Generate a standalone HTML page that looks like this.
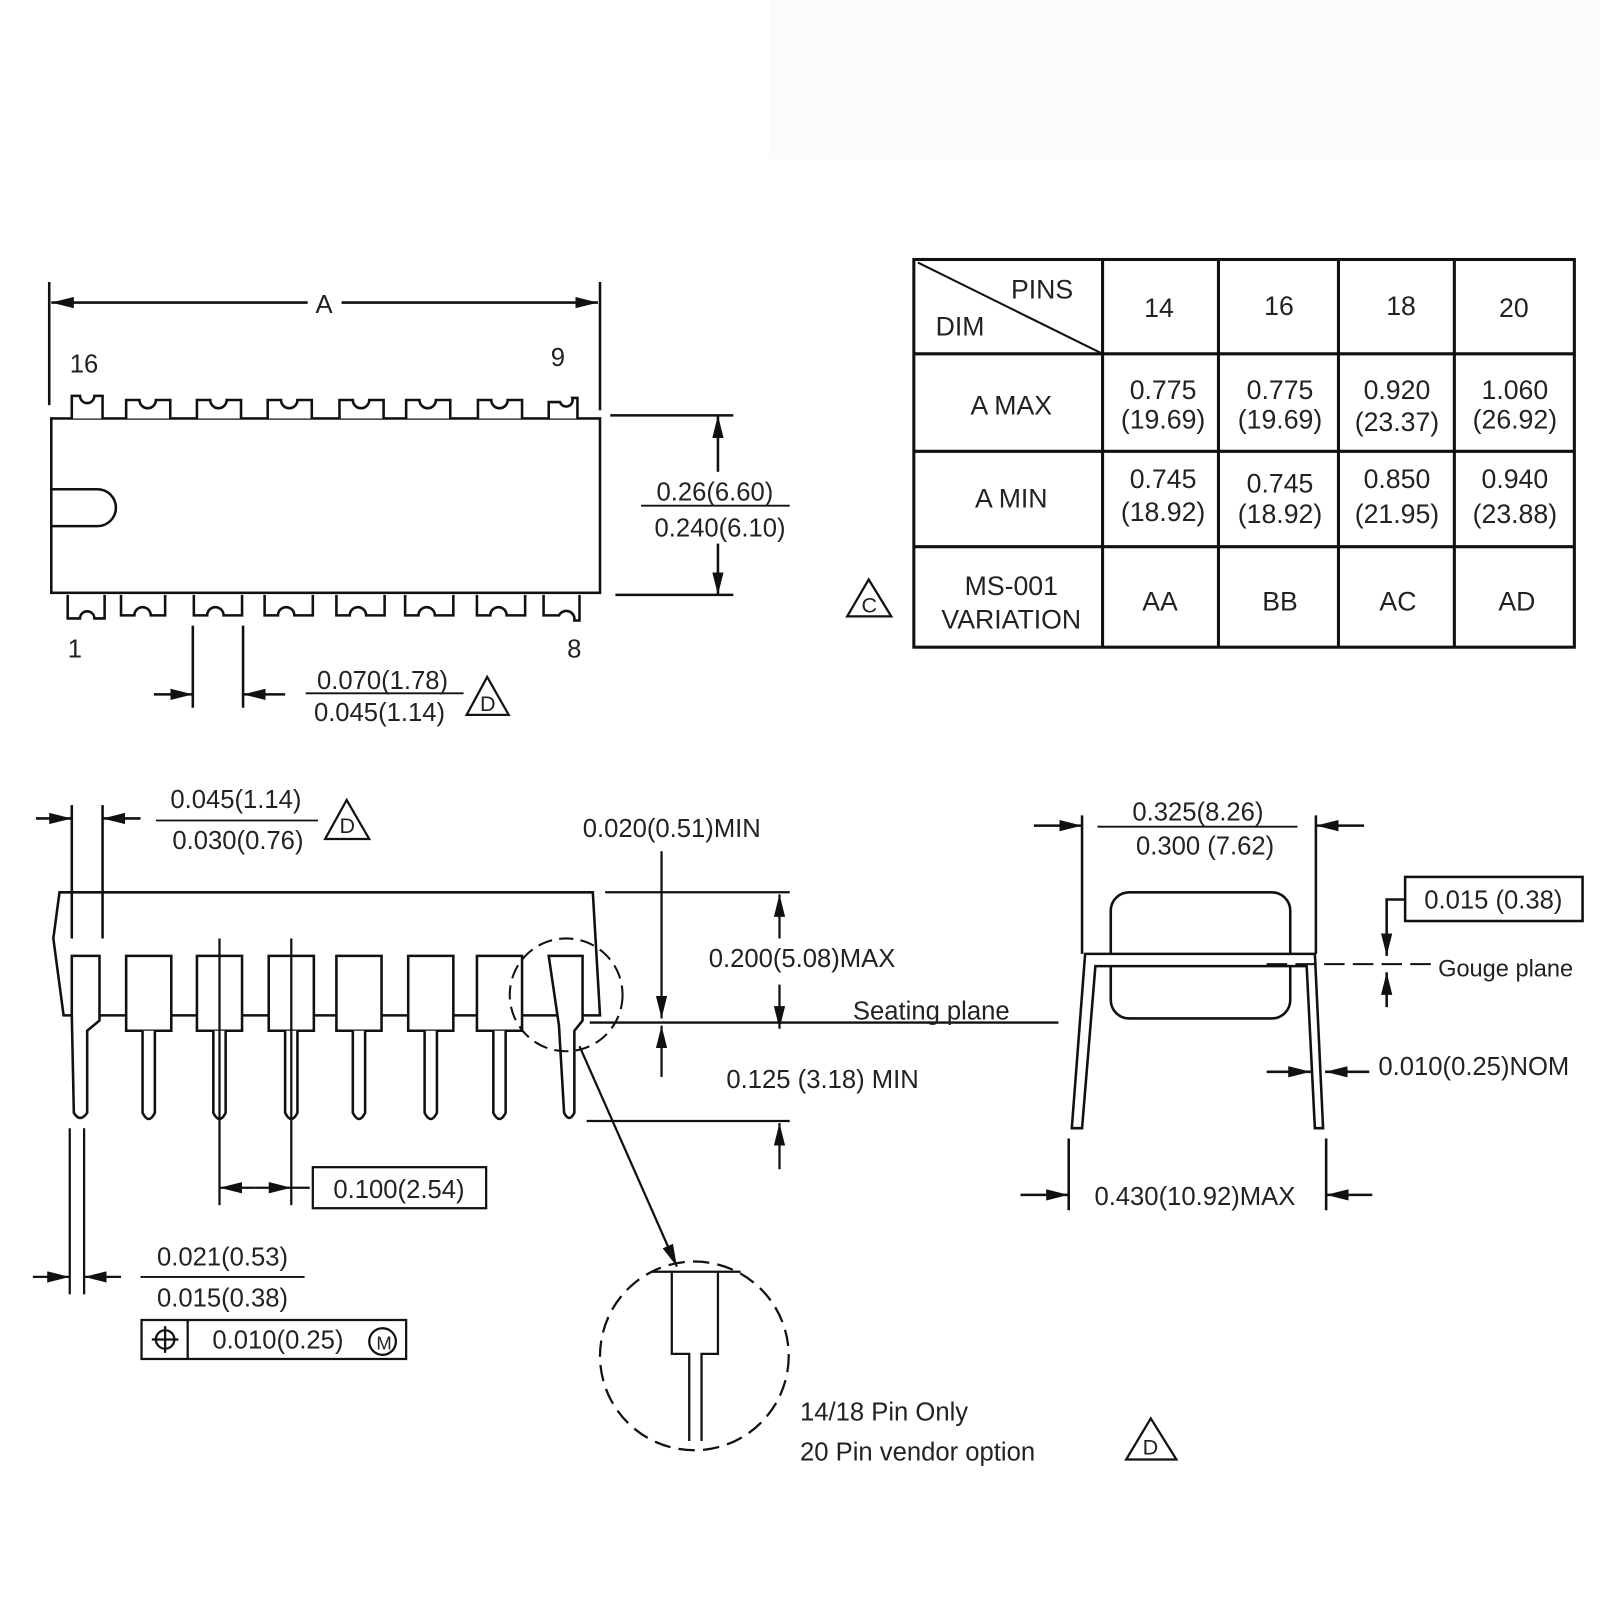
<!DOCTYPE html>
<html><head><meta charset="utf-8"><style>html,body{margin:0;padding:0;background:#fff}svg{display:block}text{font-family:"Liberation Sans",sans-serif;fill:#222}</style></head>
<body>
<svg width="1600" height="1600" viewBox="0 0 1560 1560" xmlns="http://www.w3.org/2000/svg">
<defs>
<marker id="a" viewBox="0 0 10 10" refX="10" refY="5" markerWidth="9" markerHeight="9" orient="auto-start-reverse" markerUnits="userSpaceOnUse"><path d="M0,0L10,5L0,10z" fill="#111"/></marker>
<marker id="b" viewBox="0 0 20 10" refX="20" refY="5" markerWidth="22" markerHeight="11" orient="auto-start-reverse" markerUnits="userSpaceOnUse"><path d="M0,0L20,5L0,10z" fill="#111"/></marker>
</defs>
<rect x="750" y="0" width="810" height="155" fill="#fbfbfb"/>
<g stroke="#111" stroke-width="2.5" fill="none">
<!-- top view -->
<rect x="50" y="408" width="535" height="170" fill="#fff"/>
<path d="M50,477 H95 A18,18 0 0 1 95,513 H50"/>
<line x1="48" y1="275" x2="48" y2="395"/><line x1="585" y1="275" x2="585" y2="400"/>
<line x1="50" y1="295" x2="300" y2="295" marker-start="url(#b)"/><line x1="333" y1="295" x2="583" y2="295" marker-end="url(#b)"/>
<line x1="595" y1="405" x2="715" y2="405"/><line x1="600" y1="580" x2="715" y2="580"/>
<line x1="700" y1="460" x2="700" y2="405" marker-end="url(#b)"/><line x1="700" y1="530" x2="700" y2="580" marker-end="url(#b)"/>
<line x1="188" y1="610" x2="188" y2="690"/><line x1="237" y1="610" x2="237" y2="690"/>
<line x1="150" y1="677" x2="188" y2="677" marker-end="url(#b)"/><line x1="278" y1="677" x2="237" y2="677" marker-end="url(#b)"/>
<line x1="298" y1="676" x2="452" y2="676" stroke-width="1.8"/>
<line x1="625" y1="493" x2="770" y2="493" stroke-width="1.8"/>
</g>
<g stroke="#111" stroke-width="2.5" fill="#fff">
<path d="M70,408 V386 H78 A7,7 0 0 0 92,386 H100 V408"/>
<path d="M123,408 V390 H136 A8,8 0 0 0 152,390 H166 V408"/>
<path d="M192,408 V390 H205 A8,8 0 0 0 221,390 H235 V408"/>
<path d="M261,408 V390 H274 A8,8 0 0 0 290,390 H304 V408"/>
<path d="M331,408 V390 H344 A8,8 0 0 0 360,390 H374 V408"/>
<path d="M396,408 V390 H409 A8,8 0 0 0 425,390 H439 V408"/>
<path d="M466,408 V390 H479 A8,8 0 0 0 495,390 H509 V408"/>
<path d="M535,408 V392 H546 A6,6 0 0 0 558,388 H563 V408"/>
<path d="M66,580 V603 H78 A7,7 0 0 1 92,603 H102 V580"/>
<path d="M118,580 V600 H131 A8,8 0 0 1 147,600 H161 V580"/>
<path d="M189,580 V600 H202 A8,8 0 0 1 218,600 H236 V580"/>
<path d="M258,580 V600 H271 A8,8 0 0 1 287,600 H305 V580"/>
<path d="M328,580 V600 H341 A8,8 0 0 1 357,600 H375 V580"/>
<path d="M395,580 V600 H408 A8,8 0 0 1 424,600 H442 V580"/>
<path d="M465,580 V600 H478 A8,8 0 0 1 494,600 H512 V580"/>
<path d="M530,580 V600 H545 A8,8 0 0 1 560,605 H565 V580"/>
</g>
<g font-size="25">
<text x="316" y="305" text-anchor="middle">A</text>
<text x="68" y="363">16</text><text x="537" y="357">9</text>
<text x="66" y="641">1</text><text x="553" y="641">8</text>
<text x="697" y="488" text-anchor="middle">0.26(6.60)</text>
<text x="702" y="523" text-anchor="middle">0.240(6.10)</text>
<text x="373" y="672" text-anchor="middle">0.070(1.78)</text>
<text x="370" y="703" text-anchor="middle">0.045(1.14)</text>
</g>
<g stroke="#111" stroke-width="2.2" fill="none">
<path d="M475,660 L455,697 H496 Z"/><path d="M847,565 L826,601 H869 Z"/><path d="M338,780 L317,818 H360 Z"/><path d="M1122,1383 L1098,1423 H1147 Z"/>
</g>
<g font-size="21"><text x="468" y="693">D</text><text x="840" y="597">C</text><text x="331" y="812">D</text><text x="1114" y="1418">D</text></g>
<!-- table -->
<g stroke="#111" stroke-width="3" fill="none">
<rect x="891" y="253" width="644" height="378"/>
<line x1="1075" y1="253" x2="1075" y2="631"/><line x1="1188" y1="253" x2="1188" y2="631"/><line x1="1305" y1="253" x2="1305" y2="631"/><line x1="1418" y1="253" x2="1418" y2="631"/>
<line x1="891" y1="345" x2="1535" y2="345"/><line x1="891" y1="440" x2="1535" y2="440"/><line x1="891" y1="533" x2="1535" y2="533"/>
<line x1="895" y1="256" x2="1075" y2="345" stroke-width="2"/>
</g>
<g font-size="26" text-anchor="middle">
<text x="1016" y="291">PINS</text><text x="936" y="327">DIM</text>
<text x="1130" y="309">14</text><text x="1247" y="307">16</text><text x="1366" y="307">18</text><text x="1476" y="309">20</text>
<text x="986" y="404">A MAX</text><text x="986" y="495">A MIN</text>
<text x="986" y="580">MS-001</text><text x="986" y="613">VARIATION</text>
<text x="1134" y="389">0.775</text><text x="1134" y="418">(19.69)</text>
<text x="1248" y="389">0.775</text><text x="1248" y="418">(19.69)</text>
<text x="1362" y="389">0.920</text><text x="1362" y="420">(23.37)</text>
<text x="1477" y="389">1.060</text><text x="1477" y="418">(26.92)</text>
<text x="1134" y="476">0.745</text><text x="1134" y="508">(18.92)</text>
<text x="1248" y="480">0.745</text><text x="1248" y="510">(18.92)</text>
<text x="1362" y="476">0.850</text><text x="1362" y="510">(21.95)</text>
<text x="1477" y="476">0.940</text><text x="1477" y="510">(23.88)</text>
<text x="1131" y="595">AA</text><text x="1248" y="595">BB</text><text x="1363" y="595">AC</text><text x="1479" y="595">AD</text>
</g>
<!-- side view -->
<g stroke="#111" stroke-width="2.5" fill="none">
<path d="M58,870 H578 L585,990 H62 L52,915 Z" fill="#fff"/>
<line x1="70" y1="785" x2="70" y2="915"/><line x1="100" y1="785" x2="100" y2="915"/>
<line x1="35" y1="798" x2="70" y2="798" marker-end="url(#b)"/><line x1="137" y1="798" x2="100" y2="798" marker-end="url(#b)"/>
<line x1="152" y1="800" x2="310" y2="800" stroke-width="1.8"/>
</g>
<g stroke="#111" stroke-width="2.5" fill="#fff">
<path d="M70,932 H97 V995 L85,1005 V1085 Q78,1095 72,1085 L70,990 Z"/>
<path d="M123,932 H167 V1005 H123 Z"/><path d="M139,1005 V1085 Q145,1097 151,1085 V1005"/>
<path d="M192,932 H236 V1005 H192 Z"/><path d="M208,1005 V1085 Q214,1097 220,1085 V1005"/>
<path d="M262,932 H306 V1005 H262 Z"/><path d="M278,1005 V1085 Q284,1097 290,1085 V1005"/>
<path d="M328,932 H372 V1005 H328 Z"/><path d="M344,1005 V1085 Q350,1097 356,1085 V1005"/>
<path d="M398,932 H442 V1005 H398 Z"/><path d="M414,1005 V1085 Q420,1097 426,1085 V1005"/>
<path d="M465,932 H509 V1005 H465 Z"/><path d="M481,1005 V1085 Q487,1097 493,1085 V1005"/>
<path d="M535,932 H568 V995 L560,1005 V1085 Q555,1095 550,1085 L545,1000 Z"/>
</g>
<g stroke="#111" stroke-width="2.2" fill="none">
<line x1="214" y1="915" x2="214" y2="1175"/><line x1="284" y1="915" x2="284" y2="1175"/>
<line x1="214" y1="1158" x2="249" y2="1158" marker-start="url(#b)"/><line x1="249" y1="1158" x2="284" y2="1158" marker-end="url(#b)"/><line x1="284" y1="1158" x2="302" y2="1158"/>
<rect x="305" y="1138" width="169" height="40"/>
<line x1="68" y1="1100" x2="68" y2="1262"/><line x1="82" y1="1100" x2="82" y2="1262"/>
<line x1="32" y1="1245" x2="68" y2="1245" marker-end="url(#b)"/><line x1="118" y1="1245" x2="82" y2="1245" marker-end="url(#b)"/>
<line x1="137" y1="1245" x2="297" y2="1245" stroke-width="1.8"/>
<rect x="138" y="1287" width="258" height="38"/><line x1="183" y1="1287" x2="183" y2="1325"/>
<circle cx="161" cy="1306" r="9"/><line x1="148" y1="1306" x2="174" y2="1306"/><line x1="161" y1="1293" x2="161" y2="1319"/>
<circle cx="373" cy="1308" r="13"/>
<circle cx="552" cy="970" r="55" stroke-dasharray="14,7" stroke-width="2"/>
<line x1="565" y1="1020" x2="660" y2="1235" marker-end="url(#b)"/>
<circle cx="677" cy="1322" r="92" stroke-dasharray="16,8"/>
<line x1="635" y1="1240" x2="722" y2="1240"/>
<path d="M655,1240 V1320 H672 V1405 M700,1240 V1320 H684 V1405" fill="#fff"/>
<line x1="645" y1="830" x2="645" y2="993" marker-end="url(#b)"/><line x1="645" y1="1050" x2="645" y2="1000" marker-end="url(#b)"/>
<line x1="590" y1="870" x2="770" y2="870"/><line x1="575" y1="997" x2="1032" y2="997"/><line x1="572" y1="1093" x2="770" y2="1093"/>
<line x1="760" y1="915" x2="760" y2="872" marker-end="url(#b)"/><line x1="760" y1="960" x2="760" y2="1003" marker-end="url(#b)"/>
<line x1="760" y1="1140" x2="760" y2="1095" marker-end="url(#b)"/>
</g>
<g font-size="25">
<text x="230" y="788" text-anchor="middle">0.045(1.14)</text>
<text x="232" y="828" text-anchor="middle">0.030(0.76)</text>
<text x="655" y="816" text-anchor="middle">0.020(0.51)MIN</text>
<text x="782" y="943" text-anchor="middle">0.200(5.08)MAX</text>
<text x="908" y="994" text-anchor="middle">Seating plane</text>
<text x="802" y="1061" text-anchor="middle">0.125 (3.18) MIN</text>
<text x="389" y="1168" text-anchor="middle">0.100(2.54)</text>
<text x="217" y="1234" text-anchor="middle">0.021(0.53)</text>
<text x="217" y="1274" text-anchor="middle">0.015(0.38)</text>
<text x="271" y="1315" text-anchor="middle">0.010(0.25)</text>
<text x="367" y="1316" font-size="18">M</text>
<text x="780" y="1385">14/18 Pin Only</text>
<text x="780" y="1424">20 Pin vendor option</text>
</g>
<!-- end view -->
<g stroke="#111" stroke-width="2.5" fill="none">
<rect x="1083" y="870" width="175" height="123" rx="18" fill="#fff"/>
<path d="M1045,1100 L1058,930 H1282 L1290,1100 H1282 L1274,942 H1068 L1055,1100 Z" fill="#fff"/>
<line x1="1055" y1="795" x2="1055" y2="930"/><line x1="1283" y1="795" x2="1283" y2="930"/>
<line x1="1008" y1="805" x2="1055" y2="805" marker-end="url(#b)"/><line x1="1330" y1="805" x2="1283" y2="805" marker-end="url(#b)"/>
<line x1="1070" y1="806" x2="1265" y2="806" stroke-width="1.8"/>
<line x1="1235" y1="940" x2="1395" y2="940" stroke-dasharray="20,8" stroke-width="2"/>
<rect x="1370" y="855" width="173" height="43"/>
<path d="M1370,877 H1352 V932" marker-end="url(#b)"/>
<line x1="1352" y1="982" x2="1352" y2="948" marker-end="url(#b)"/>
<line x1="1235" y1="1045" x2="1278" y2="1045" marker-end="url(#b)"/><line x1="1335" y1="1045" x2="1292" y2="1045" marker-end="url(#b)"/>
<line x1="1042" y1="1110" x2="1042" y2="1180"/><line x1="1293" y1="1110" x2="1293" y2="1180"/>
<line x1="995" y1="1165" x2="1042" y2="1165" marker-end="url(#b)"/><line x1="1338" y1="1165" x2="1293" y2="1165" marker-end="url(#b)"/>
</g>
<g font-size="25">
<text x="1168" y="800" text-anchor="middle">0.325(8.26)</text>
<text x="1175" y="833" text-anchor="middle">0.300 (7.62)</text>
<text x="1456" y="886" text-anchor="middle">0.015 (0.38)</text>
<text x="1468" y="952" text-anchor="middle" font-size="23">Gouge plane</text>
<text x="1437" y="1048" text-anchor="middle">0.010(0.25)NOM</text>
<text x="1165" y="1175" text-anchor="middle">0.430(10.92)MAX</text>
</g>
</svg>
</body></html>
